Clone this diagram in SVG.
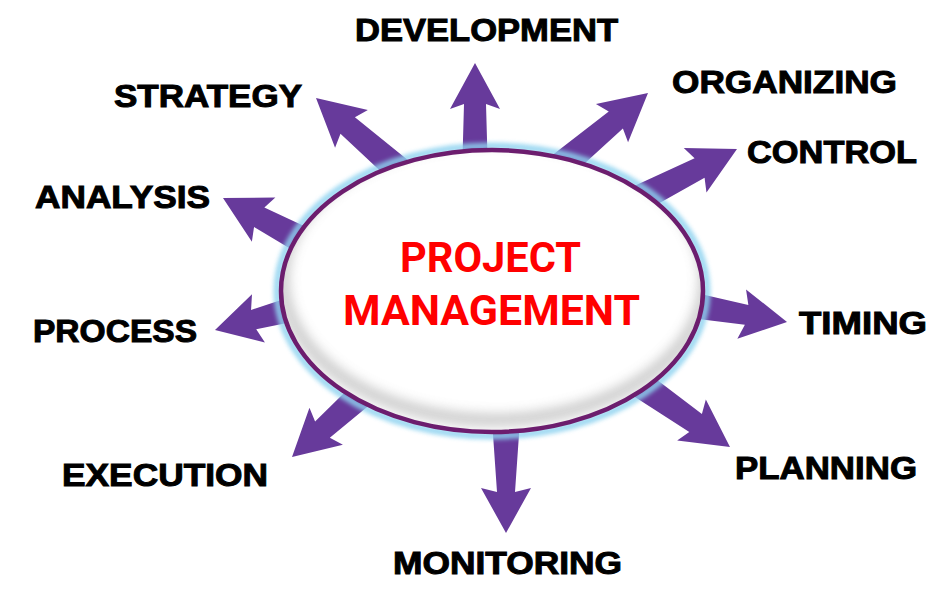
<svg xmlns="http://www.w3.org/2000/svg" width="943" height="597" viewBox="0 0 943 597">
<defs>
<style>
.arrow{fill:#673a9b;}
.lbl{font-family:"Liberation Sans",Arial,sans-serif;font-weight:bold;font-size:32px;fill:#000;stroke:#000;stroke-width:1;}
.ctr{font-family:Roboto,"Liberation Sans",Arial,sans-serif;font-weight:bold;font-size:42px;fill:#ff0000;}
</style>
<filter id="blur" x="-20%" y="-20%" width="140%" height="140%"><feGaussianBlur stdDeviation="2"/></filter>
<filter id="blur6" x="-20%" y="-20%" width="140%" height="140%"><feGaussianBlur stdDeviation="6"/></filter>
<clipPath id="ellClip"><ellipse cx="492" cy="291" rx="211" ry="141"/></clipPath>
</defs>
<rect width="943" height="597" fill="#ffffff"/>
<g id="connectors">
<path class="arrow" transform="translate(475,63) rotate(-90)" d="M0,0 L-46,-25 L-41,-11 L-112,-13 L-112,13 L-41,11 L-46,25 Z"/>
<path class="arrow" transform="translate(316,98) rotate(-139)" d="M0,0 L-47,-25 L-42,-11 L-125,-14 L-125,14 L-42,11 L-47,25 Z"/>
<path class="arrow" transform="translate(648,93) rotate(-40)" d="M0,0 L-47,-25 L-42,-11 L-115,-14 L-115,14 L-42,11 L-47,25 Z"/>
<path class="arrow" transform="translate(737,149) rotate(-27)" d="M0,0 L-47,-25 L-42,-11 L-118,-14 L-118,14 L-42,11 L-47,25 Z"/>
<path class="arrow" transform="translate(787,322) rotate(10)" d="M0,0 L-46,-25 L-41,-10 L-100,-13 L-100,13 L-41,10 L-46,25 Z"/>
<path class="arrow" transform="translate(730,447) rotate(35)" d="M0,0 L-47,-25 L-42,-11 L-120,-14 L-120,14 L-42,11 L-47,25 Z"/>
<path class="arrow" transform="translate(506,533) rotate(90)" d="M0,0 L-45,-25 L-41,-9 L-113,-14 L-113,14 L-41,9 L-45,25 Z"/>
<path class="arrow" transform="translate(292,457) rotate(138)" d="M0,0 L-46,-25 L-41,-11 L-110,-14 L-110,14 L-41,11 L-46,25 Z"/>
<path class="arrow" transform="translate(215,330) rotate(165)" d="M0,0 L-45,-25 L-40,-10 L-90,-13 L-90,13 L-40,10 L-45,25 Z"/>
<path class="arrow" transform="translate(223,198) rotate(-152)" d="M0,0 L-46,-25 L-41,-11 L-100,-14 L-100,14 L-41,11 L-46,25 Z"/>
</g>
<g id="project-management">
<ellipse cx="492" cy="291" rx="215" ry="145" fill="none" stroke="#8fd3f0" stroke-width="7" opacity="0.85" filter="url(#blur)"/>
<ellipse cx="492" cy="291" rx="211" ry="141" fill="#ffffff"/>
<g clip-path="url(#ellClip)">
<ellipse cx="494" cy="279" rx="211" ry="141" fill="none" stroke="#8a8a8a" stroke-width="12" opacity="0.45" filter="url(#blur6)"/>
</g>
<ellipse cx="492" cy="291" rx="211" ry="141" fill="none" stroke="#6c1d6e" stroke-width="4.5"/>
<text class="ctr" x="400" y="272" textLength="181" lengthAdjust="spacingAndGlyphs">PROJECT</text>
<text class="ctr" x="343" y="325" textLength="297" lengthAdjust="spacingAndGlyphs">MANAGEMENT</text>
</g>
<g id="development"><text class="lbl" x="355" y="41" textLength="263" lengthAdjust="spacingAndGlyphs">DEVELOPMENT</text></g>
<g id="organizing"><text class="lbl" x="672" y="93" textLength="225" lengthAdjust="spacingAndGlyphs">ORGANIZING</text></g>
<g id="control"><text class="lbl" x="747" y="163" textLength="170" lengthAdjust="spacingAndGlyphs">CONTROL</text></g>
<g id="strategy"><text class="lbl" x="114" y="107" textLength="188" lengthAdjust="spacingAndGlyphs">STRATEGY</text></g>
<g id="analysis"><text class="lbl" x="35" y="208" textLength="175" lengthAdjust="spacingAndGlyphs">ANALYSIS</text></g>
<g id="process"><text class="lbl" x="33" y="342" textLength="164" lengthAdjust="spacingAndGlyphs">PROCESS</text></g>
<g id="timing"><text class="lbl" x="799" y="334" textLength="128" lengthAdjust="spacingAndGlyphs">TIMING</text></g>
<g id="planning"><text class="lbl" x="735" y="479" textLength="182" lengthAdjust="spacingAndGlyphs">PLANNING</text></g>
<g id="monitoring"><text class="lbl" x="393" y="574" textLength="229" lengthAdjust="spacingAndGlyphs">MONITORING</text></g>
<g id="execution"><text class="lbl" x="62" y="486" textLength="206" lengthAdjust="spacingAndGlyphs">EXECUTION</text></g>
</svg>
